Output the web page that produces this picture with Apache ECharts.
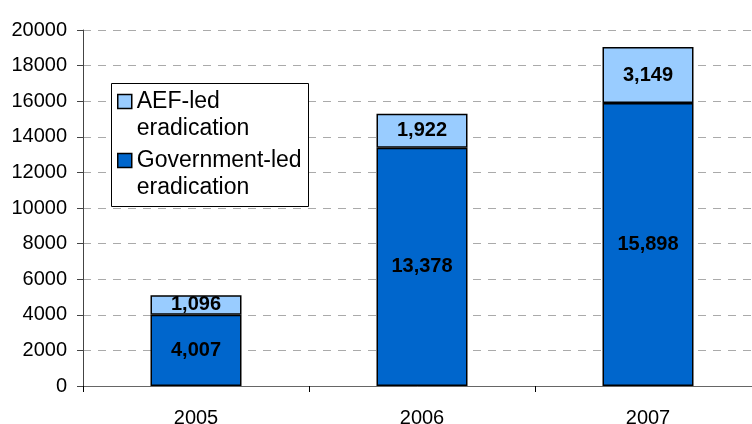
<!DOCTYPE html>
<html>
<head>
<meta charset="utf-8">
<script src="https://cdn.jsdelivr.net/npm/echarts@6/dist/echarts.min.js"></script>
<style>html,body{margin:0;padding:0;background:#fff}#c{width:752px;height:424px}</style>
</head>
<body>
<div id="c"></div>
<script>
const categories = ['2005', '2006', '2007'];
const governmentLed = [4007, 13378, 15898];
const aefLed = [1096, 1922, 3149];
const seriesNames = ['AEF-led\neradication', 'Government-led\neradication'];

const chart = echarts.init(document.getElementById('c'), null, {renderer: 'canvas'});
const fmt = p => Number(p.value).toLocaleString('en-US');
const font = '"Liberation Sans", Arial, sans-serif';
chart.setOption({
  animation: false,
  textStyle: {fontFamily: font},
  grid: {left: 83, right: -9, top: 30, bottom: 38, containLabel: false, outerBoundsMode: 'none'},
  graphic: [{
    type: 'rect', left: 111, top: 83, z: 50,
    shape: {width: 197, height: 123},
    style: {fill: '#fff', stroke: '#000', lineWidth: 1}
  }],
  legend: {
    data: [seriesNames[0], seriesNames[1]],
    orient: 'vertical', left: 117, top: 61, padding: 0, z: 60,
    itemWidth: 14, itemHeight: 14, itemGap: -22,
    icon: 'rect',
    formatter: name => '\n' + name,
    itemStyle: {borderColor: '#000', borderWidth: 1.5},
    textStyle: {fontFamily: font, fontSize: 23, color: '#000', lineHeight: 27}
  },
  xAxis: {
    type: 'category', data: categories,
    axisLine: {lineStyle: {color: '#666', width: 1}},
    axisTick: {show: true, length: 6, lineStyle: {color: '#000'}},
    axisLabel: {fontFamily: font, fontSize: 20, color: '#000', margin: 22}
  },
  yAxis: {
    type: 'value', min: 0, max: 20000, interval: 2000,
    axisLine: {show: true, lineStyle: {color: '#444', width: 1}},
    axisTick: {show: true, length: 6, lineStyle: {color: '#444'}},
    axisLabel: {fontFamily: font, fontSize: 20, color: '#000', margin: 16, formatter: v => String(v)},
    splitLine: {show: true, lineStyle: {color: '#aaa', type: [8, 7], width: 1}}
  },
  series: [
    {
      name: seriesNames[1], type: 'bar', stack: 'total', data: governmentLed,
      barWidth: 91,
      itemStyle: {color: '#0066CC', borderColor: '#000', borderWidth: 1.5},
      label: {show: true, position: 'inside', formatter: fmt, color: '#000', fontWeight: 'bold', fontSize: 20, fontFamily: font}
    },
    {
      name: seriesNames[0], type: 'bar', stack: 'total', data: aefLed,
      barWidth: 91,
      itemStyle: {color: '#99CCFF', borderColor: '#000', borderWidth: 1.5},
      label: {show: true, position: 'inside', formatter: fmt, color: '#000', fontWeight: 'bold', fontSize: 20, fontFamily: font}
    }
  ]
});
</script>
</body>
</html>
